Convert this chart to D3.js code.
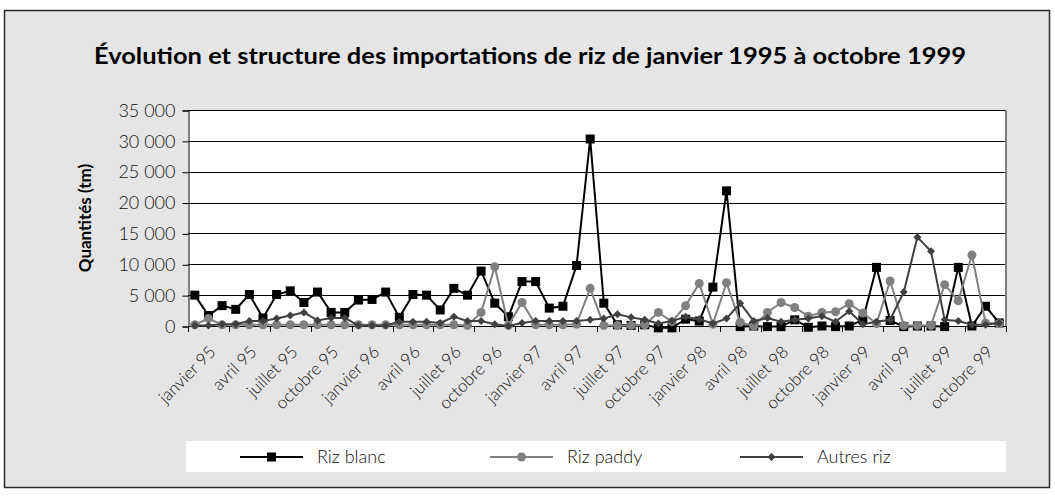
<!DOCTYPE html>
<html>
<head>
<meta charset="utf-8">
<script src="https://cdn.jsdelivr.net/npm/d3@7"></script>
<style>
  body { margin: 0; background: #fff; }
  text { font-family: Lato, 'Open Sans', sans-serif; }
</style>
</head>
<body>
<svg id="chart" width="1055" height="497"></svg>
<script>
// mois et années (janvier 1995 -> décembre 1999, 60 catégories)
const months = ['janvier', 'février', 'mars', 'avril', 'mai', 'juin', 'juillet', 'août', 'septembre', 'octobre', 'novembre', 'décembre']
const years = ['95', '96', '97', '98', '99']
const categories = years.flatMap((y) => months.map((m) => m + ' ' + y))

// quantités en tonnes métriques
const rizBlanc = [
  5000, 1700, 3300, 2700, 5100, 1300, 5100, 5700, 3800, 5500, 2200, 2200,
  4200, 4300, 5500, 1400, 5100, 5000, 2600, 6100, 5000, 8900, 3700, 1500,
  7200, 7200, 2900, 3200, 9800, 30300, 3700, 200, 100, 200, -300, -300,
  1100, 800, 6300, 21900, -100, 0, -100, -100, 1000, -200, 0, -100,
  0, 1000, 9500, 900, -100, 0, 0, -100, 9500, 0, 3200, 500
]
const rizPaddy = [
  200, 1200, 200, 200, 200, 200, 200, 200, 200, 200, 200, 200,
  200, 200, 200, 200, 200, 200, 200, 200, 100, 2200, 9600, 100,
  3800, 200, 200, 200, 300, 6100, 100, 100, 100, 200, 2200, 700,
  3300, 6900, 300, 7000, 600, 0, 2200, 3800, 3000, 1600, 2200, 2300,
  3600, 2100, 400, 7300, 100, 100, 100, 6700, 4100, 11500, 500, 400
]
const autresRiz = [
  100, 100, 300, 300, 800, 800, 1200, 1700, 2200, 900, 1300, 1300,
  100, 100, 100, 700, 700, 700, 500, 1500, 800, 800, 300, 0,
  500, 800, 800, 800, 800, 1000, 1200, 1900, 1400, 1000, 400, 800,
  1500, 1100, 400, 1200, 3700, 800, 1300, 700, 1000, 1200, 1600, 700,
  2400, 300, 700, 1000, 5500, 14400, 12100, 1000, 800, 200, 200, 500
]

const seriesNames = ['Riz blanc', 'Riz paddy', 'Autres riz']
const yTicks = [0, 5000, 10000, 15000, 20000, 25000, 30000, 35000]

const series = [
  { name: seriesNames[0], values: rizBlanc, color: '#000000', marker: 'square' },
  { name: seriesNames[1], values: rizPaddy, color: '#808080', marker: 'circle' },
  { name: seriesNames[2], values: autresRiz, color: '#404040', marker: 'diamond' }
]

const svg = d3.select('#chart')
const plot = { left: 188, right: 1006, top: 110, bottom: 326 }

// cadre extérieur
svg.append('rect')
  .attr('x', 4.5).attr('y', 10.5)
  .attr('width', 1045).attr('height', 477)
  .attr('fill', '#e5e5e5')
  .attr('stroke', '#2b2b2b')
  .attr('stroke-width', 1.5)

svg.append('text')
  .attr('x', 530).attr('y', 64)
  .attr('text-anchor', 'middle')
  .attr('font-size', 22)
  .attr('font-weight', 'bold')
  .attr('textLength', 872)
  .attr('lengthAdjust', 'spacingAndGlyphs')
  .text('Évolution et structure des importations de riz de janvier 1995 à octobre 1999')

const x = d3.scaleBand().domain(categories).range([plot.left, plot.right]).padding(0)
const cx = (i) => x(categories[i]) + x.bandwidth() / 2
const y = d3.scaleLinear().domain([0, 35000]).range([plot.bottom, plot.top])

// zone de tracé
svg.append('rect')
  .attr('x', plot.left).attr('y', plot.top)
  .attr('width', plot.right - plot.left).attr('height', plot.bottom - plot.top)
  .attr('fill', '#fff')

svg.append('g')
  .selectAll('line')
  .data(yTicks.slice(1))
  .join('line')
  .attr('x1', plot.left).attr('x2', plot.right)
  .attr('y1', (d) => Math.round(y(d)) + 0.5).attr('y2', (d) => Math.round(y(d)) + 0.5)
  .attr('stroke', '#000')

svg.append('line')
  .attr('x1', plot.right).attr('x2', plot.right)
  .attr('y1', plot.top).attr('y2', plot.bottom)
  .attr('stroke', '#808080').attr('stroke-width', 2)

// axe Y
const fmt = (d) => d3.format(',')(d).replace(/,/g, ' ')
const yAxis = svg.append('g')
  .attr('transform', 'translate(' + (plot.left + 0.5) + ',0.5)')
  .call(d3.axisLeft(y).tickValues(yTicks).tickSize(6).tickPadding(7).tickFormat(fmt))
yAxis.select('.domain').attr('stroke', '#000')
yAxis.selectAll('text')
  .attr('font-size', 18)
  .attr('font-weight', 300)
  .attr('fill', '#111')
  .style('font-family', 'Lato, sans-serif')

svg.append('text')
  .attr('transform', 'translate(91,218) rotate(-90)')
  .attr('text-anchor', 'middle')
  .attr('font-size', 17)
  .attr('font-weight', 'bold')
  .text('Quantités (tm)')

// axe X : graduations toutes les 3 catégories
const xTickIdx = d3.range(0, categories.length + 1, 3)
svg.append('line')
  .attr('x1', plot.left).attr('x2', plot.right)
  .attr('y1', plot.bottom + 0.5).attr('y2', plot.bottom + 0.5)
  .attr('stroke', '#000')
svg.append('g')
  .selectAll('line')
  .data(xTickIdx)
  .join('line')
  .attr('x1', (i) => Math.round(i < categories.length ? x(categories[i]) : plot.right) + 0.5)
  .attr('x2', (i) => Math.round(i < categories.length ? x(categories[i]) : plot.right) + 0.5)
  .attr('y1', plot.bottom).attr('y2', plot.bottom + 6)
  .attr('stroke', '#000')

const labelIdx = d3.range(0, 58, 3)
svg.append('g')
  .selectAll('text')
  .data(labelIdx)
  .join('text')
  .attr('transform', (i) => 'translate(' + (cx(i) + 22) + ',' + (plot.bottom + 27) + ') rotate(-45)')
  .attr('text-anchor', 'end')
  .attr('font-size', 17)
  .attr('font-weight', 300)
  .attr('fill', '#111')
  .text((i) => categories[i])

// séries
const line = d3.line().x((d, i) => cx(i)).y((d) => y(d))

function drawMarker (g, type, color) {
  if (type === 'square') {
    g.append('rect').attr('x', -4.5).attr('y', -4.5).attr('width', 9).attr('height', 9).attr('fill', color)
  } else if (type === 'circle') {
    g.append('circle').attr('r', 4.5).attr('fill', color)
  } else {
    g.append('path').attr('d', 'M0,-4L4,0L0,4L-4,0Z').attr('fill', color)
  }
}

series.forEach((s) => {
  svg.append('path')
    .datum(s.values)
    .attr('d', line)
    .attr('fill', 'none')
    .attr('stroke', s.color)
    .attr('stroke-width', 2)
  svg.append('g')
    .selectAll('g')
    .data(s.values)
    .join('g')
    .attr('transform', (d, i) => 'translate(' + cx(i) + ',' + y(d) + ')')
    .each(function () { drawMarker(d3.select(this), s.marker, s.color) })
})

// légende
svg.append('rect')
  .attr('x', 186).attr('y', 441)
  .attr('width', 820).attr('height', 31)
  .attr('fill', '#fff')

const legendX = [240, 490, 740]
series.forEach((s, k) => {
  const g = svg.append('g').attr('transform', 'translate(' + legendX[k] + ',457)')
  g.append('line').attr('x1', 0).attr('x2', 63).attr('stroke', s.color).attr('stroke-width', 2)
  const m = g.append('g').attr('transform', 'translate(31.5,0)')
  drawMarker(m, s.marker, s.color)
  g.append('text')
    .attr('x', 77).attr('y', 6)
    .attr('font-size', 18)
    .attr('font-weight', 300)
    .attr('fill', '#111')
    .text(s.name)
})
</script>
</body>
</html>
